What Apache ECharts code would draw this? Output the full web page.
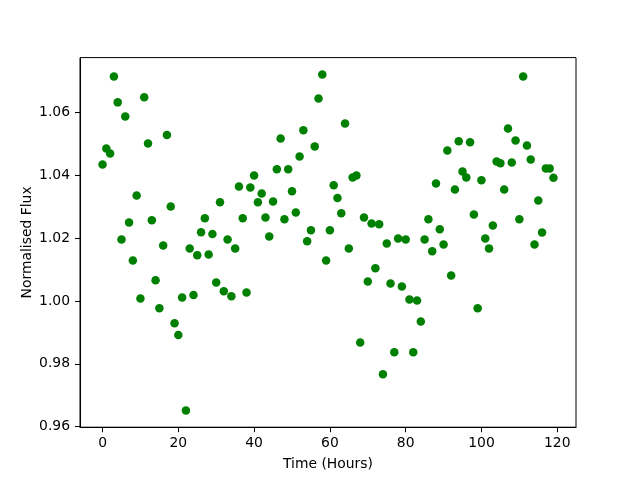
<!DOCTYPE html>
<html>
<head>
<meta charset="utf-8">
<script src="https://cdn.jsdelivr.net/npm/echarts@6/dist/echarts.min.js"></script>
<style>html,body{margin:0;padding:0;background:#fff}#c{width:640px;height:480px}</style>
</head>
<body>
<div id="c"></div>
<script>
const hours = [0,1,2,3,4,5,6,7,8,9,10,11,12,13,14,15,16,17,18,19,20,21,22,23,24,25,26,27,28,29,30,31,32,33,34,35,36,37,38,39,40,41,42,43,44,45,46,47,48,49,50,51,52,53,54,55,56,57,58,59,60,61,62,63,64,65,66,67,68,69,70,71,72,73,74,75,76,77,78,79,80,81,82,83,84,85,86,87,88,89,90,91,92,93,94,95,96,97,98,99,100,101,102,103,104,105,106,107,108,109,110,111,112,113,114,115,116,117,118,119];
const flux = [1.0434,1.0485,1.0469,1.0714,1.0632,1.0196,1.0587,1.0250,1.0129,1.0336,
1.0008,1.0648,1.0501,1.0257,1.0066,0.9977,1.0177,1.0528,1.0301,0.9929,
0.9892,1.0011,0.9652,1.0167,1.0019,1.0146,1.0219,1.0263,1.0148,1.0213,
1.0059,1.0314,1.0031,1.0196,1.0015,1.0167,1.0364,1.0263,1.0027,1.0361,
1.0399,1.0314,1.0342,1.0266,1.0205,1.0317,1.0419,1.0517,1.0260,1.0419,
1.0349,1.0282,1.0460,1.0543,1.0190,1.0225,1.0492,1.0644,1.0721,1.0129,
1.0225,1.0368,1.0328,1.0279,1.0565,1.0167,1.0393,1.0399,0.9868,1.0266,
1.0062,1.0247,1.0104,1.0244,0.9767,1.0183,1.0056,0.9837,1.0199,1.0046,
1.0196,1.0005,0.9837,1.0002,0.9935,1.0196,1.0260,1.0158,1.0374,1.0228,
1.0180,1.0479,1.0081,1.0355,1.0508,1.0412,1.0393,1.0505,1.0275,0.9977,
1.0384,1.0199,1.0167,1.0240,1.0444,1.0438,1.0355,1.0549,1.0441,1.0511,
1.0260,1.0714,1.0495,1.0450,1.0180,1.0320,1.0218,1.0422,1.0422,1.0392];
const xTicks = [0,20,40,60,80,100,120];
const yTicks = [0.96,0.98,1.00,1.02,1.04,1.06];
const xLabel = 'Time (Hours)';
const yLabel = 'Normalised Flux';

function pad(lo, hi){ const m = (hi-lo)*0.05; return [lo-m, hi+m]; }
const xr = pad(Math.min(...hours), Math.max(...hours));
const yr = pad(Math.min(...flux), Math.max(...flux));
const font = 'DejaVu Sans';

const chart = echarts.init(document.getElementById('c'), null, {renderer:'canvas'});
chart.setOption({
  animation: false,
  backgroundColor: '#fff',
  grid: {left: 80, right: 64, top: 57.6, bottom: 52.8, show: true, borderColor: '#000', borderWidth: 1, backgroundColor: 'transparent'},
  xAxis: {
    type: 'value', min: xr[0], max: xr[1],
    name: xLabel, nameLocation: 'middle', nameGap: 30, nameMoveOverlap: false,
    nameTextStyle: {fontFamily: font, fontSize: 13.9, color: '#000'},
    axisLine: {show: true, onZero: false, lineStyle: {color: '#000', width: 1}},
    axisTick: {show: true, length: 5, lineStyle: {color: '#000'}, customValues: xTicks},
    axisLabel: {fontFamily: font, fontSize: 13.9, color: '#000', margin: 9, customValues: xTicks, formatter: v => String(v)},
    splitLine: {show: false}
  },
  yAxis: {
    type: 'value', min: yr[0], max: yr[1],
    name: yLabel, nameLocation: 'middle', nameGap: 46, nameMoveOverlap: false,
    nameTextStyle: {fontFamily: font, fontSize: 13.9, color: '#000'},
    axisLine: {show: true, onZero: false, lineStyle: {color: '#000', width: 1}},
    axisTick: {show: true, length: 5, lineStyle: {color: '#000'}, customValues: yTicks},
    axisLabel: {fontFamily: font, fontSize: 13.9, color: '#000', margin: 10, customValues: yTicks, formatter: v => v.toFixed(2)},
    splitLine: {show: false}
  },
  series: [{
    type: 'scatter',
    data: hours.map((h, i) => [h, flux[i]]),
    symbol: 'circle', symbolSize: 8.5,
    itemStyle: {color: '#008000', opacity: 1},
    silent: true
  }]
});
</script>
</body>
</html>
